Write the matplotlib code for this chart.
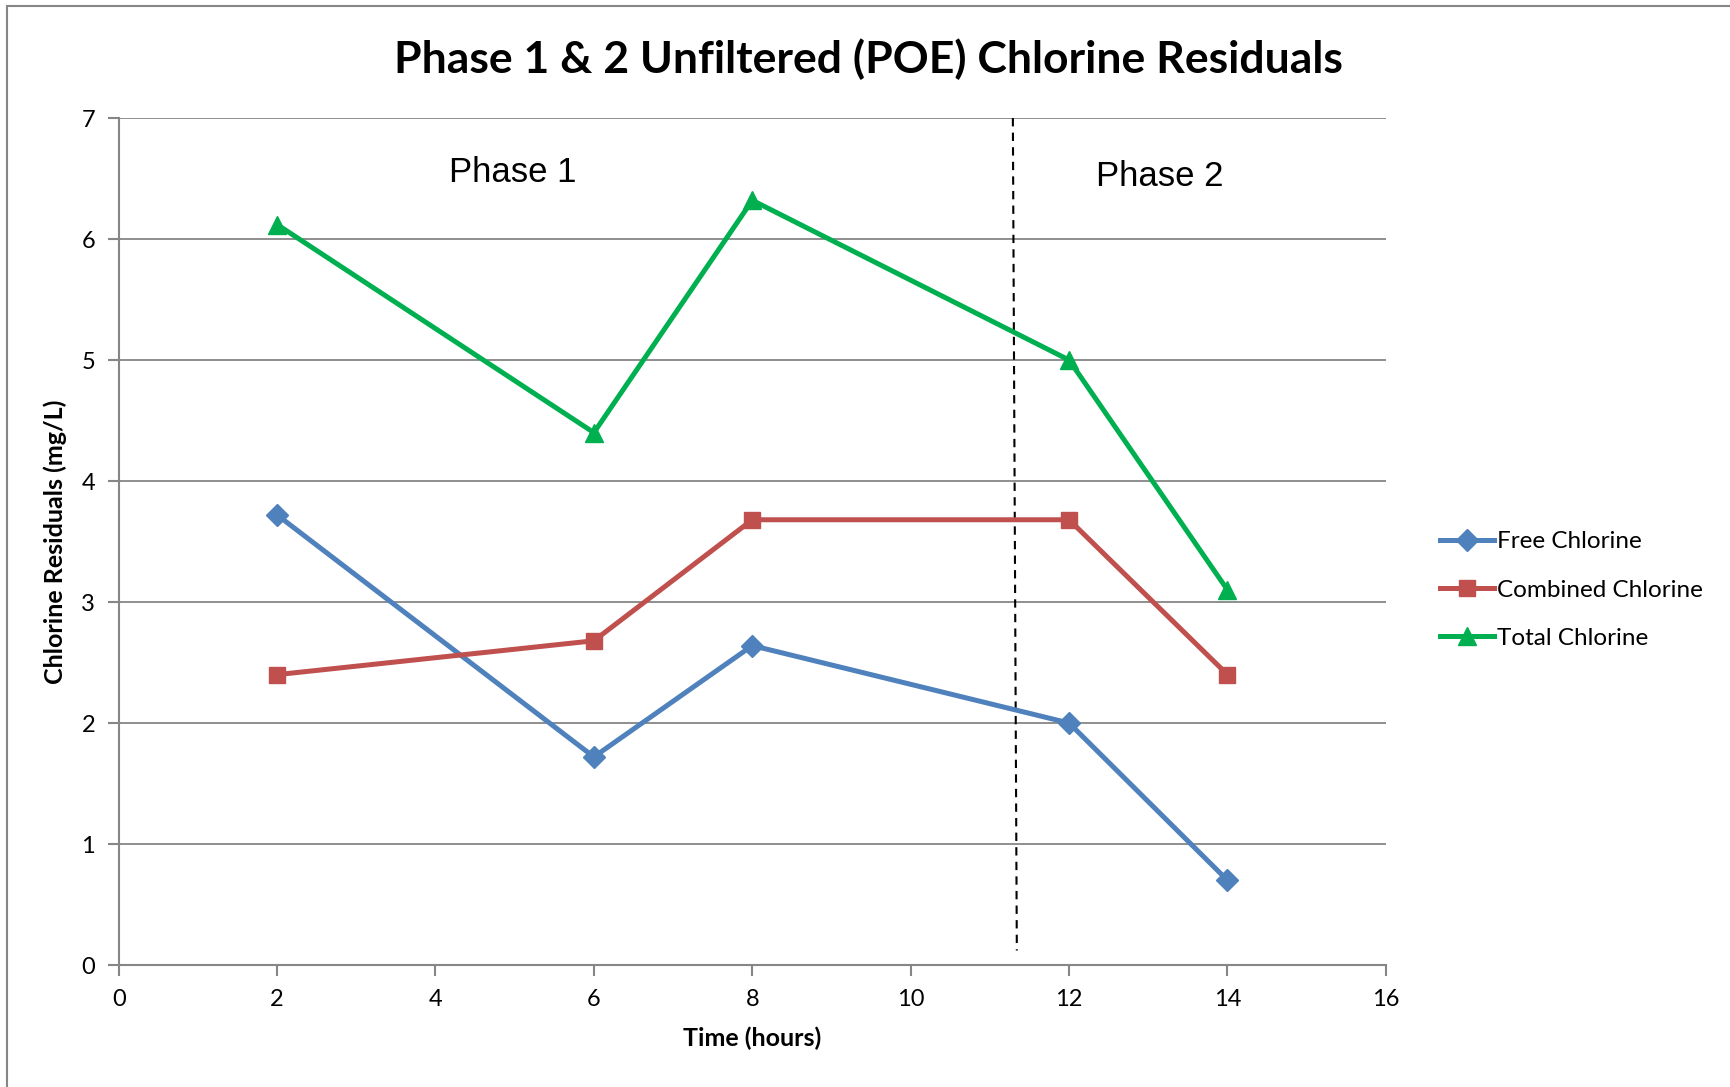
import matplotlib.pyplot as plt
from matplotlib.patches import Rectangle

plt.rcParams['font.family'] = ['Lato', 'DejaVu Sans']

# 数据
hours = [2, 6, 8, 12, 14]
free_cl = [3.72, 1.72, 2.64, 2.00, 0.70]
combined_cl = [2.40, 2.68, 3.68, 3.68, 2.40]
total_cl = [6.12, 4.40, 6.32, 5.00, 3.10]
phase_split_x = [11.29, 11.34]
phase_split_y = [7.0, 0.12]

series = [
    ('Free Chlorine', free_cl, '#4F81BD', 'D', 11),
    ('Combined Chlorine', combined_cl, '#C0504D', 's', 12),
    ('Total Chlorine', total_cl, '#00B050', '^', 13),
]

fig = plt.figure(figsize=(17.3, 10.87), dpi=100)
ax = fig.add_axes([0.0686, 0.1122, 0.8324 - 0.0686 - 0.0313, 0.8914 - 0.1122])

# 外框
fig.patches.append(Rectangle((7 / 1730, -0.05), 1.2, 1 - 6 / 1087 + 0.05,
                             transform=fig.transFigure, fill=False,
                             edgecolor='#868686', linewidth=1.5))

for name, vals, color, marker, ms in series:
    ax.plot(hours, vals, color=color, linewidth=3.6, marker=marker,
            markersize=ms, label=name, clip_on=False, zorder=3)

ax.plot(phase_split_x, phase_split_y, color='black', linewidth=1.5,
        linestyle=(0, (4, 3)), zorder=2)

ax.set_xlim(0, 16)
ax.set_ylim(0, 7)
ax.set_xticks(range(0, 17, 2))
ax.set_yticks(range(0, 8))
ax.grid(axis='y', color='#868686', linewidth=1.3)
ax.grid(axis='x', visible=False)
ax.set_axisbelow(True)
for s in ['top', 'right']:
    ax.spines[s].set_visible(False)
for s in ['left', 'bottom']:
    ax.spines[s].set_color('#868686')
    ax.spines[s].set_linewidth(1.5)
ax.tick_params(axis='both', length=8, width=1.5, color='#868686',
               labelsize=17, pad=9)

ax.set_xlabel('Time (hours)', fontsize=18, fontweight='bold', labelpad=12)
ax.set_ylabel('Chlorine Residuals (mg/L)', fontsize=18, fontweight='bold',
              labelpad=10)

fig.text(868 / 1730, 1 - 59 / 1087, 'Phase 1 & 2 Unfiltered (POE) Chlorine Residuals',
         ha='center', va='center', fontsize=32, fontweight='bold')

ax.text(513 / 1730, 1 - 172 / 1087, 'Phase 1', transform=fig.transFigure,
        ha='center', va='center', fontsize=25, family='Liberation Sans')
ax.text(1160 / 1730, 1 - 177 / 1087, 'Phase 2', transform=fig.transFigure,
        ha='center', va='center', fontsize=25, family='Liberation Sans')

leg = ax.legend(loc='center left', bbox_to_anchor=(1430 / 1730, 1 - 590 / 1087),
                bbox_transform=fig.transFigure, frameon=False, fontsize=17.5,
                handlelength=2.25, handletextpad=0.1, labelspacing=1.12,
                borderaxespad=0)

fig.savefig('out.png', dpi=100)
